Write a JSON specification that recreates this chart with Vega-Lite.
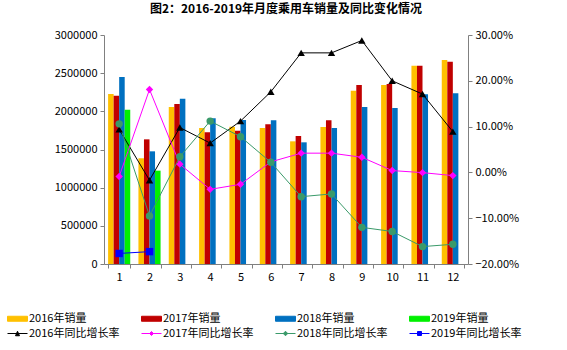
{
  "$schema": "https://vega.github.io/schema/vega-lite/v6.json",
  "width": 364,
  "height": 229,
  "autosize": {"type": "none"},
  "padding": {"left": 104, "top": 35, "right": 99, "bottom": 86},
  "background": "white",
  "config": {
    "view": {"stroke": null},
    "font": "Noto Sans CJK SC",
    "axis": {"labelFont": "Noto Sans CJK SC", "labelFontSize": 11, "labelColor": "black", "domainColor": "#808080", "tickColor": "#808080", "grid": false, "tickSize": 4, "labelPadding": 3}
  },
  "title": {"text": "图2：2016-2019年月度乘用车销量及同比变化情况", "fontSize": 12, "fontWeight": "bold", "anchor": "middle", "offset": 13, "font": "Noto Sans CJK SC", "color": "black"},
  "datasets": {
    "sales": [
      {"month": 1, "series": "2016年销量", "value": 2227000},
      {"month": 1, "series": "2017年销量", "value": 2205000},
      {"month": 1, "series": "2018年销量", "value": 2450000},
      {"month": 1, "series": "2019年销量", "value": 2020000},
      {"month": 2, "series": "2016年销量", "value": 1385000},
      {"month": 2, "series": "2017年销量", "value": 1633000},
      {"month": 2, "series": "2018年销量", "value": 1476000},
      {"month": 2, "series": "2019年销量", "value": 1223000},
      {"month": 3, "series": "2016年销量", "value": 2057000},
      {"month": 3, "series": "2017年销量", "value": 2096000},
      {"month": 3, "series": "2018年销量", "value": 2166000},
      {"month": 4, "series": "2016年销量", "value": 1782000},
      {"month": 4, "series": "2017年销量", "value": 1725000},
      {"month": 4, "series": "2018年销量", "value": 1908000},
      {"month": 5, "series": "2016年销量", "value": 1799000},
      {"month": 5, "series": "2017年销量", "value": 1747000},
      {"month": 5, "series": "2018年销量", "value": 1887000},
      {"month": 6, "series": "2016年销量", "value": 1782000},
      {"month": 6, "series": "2017年销量", "value": 1830000},
      {"month": 6, "series": "2018年销量", "value": 1882000},
      {"month": 7, "series": "2016年销量", "value": 1607000},
      {"month": 7, "series": "2017年销量", "value": 1677000},
      {"month": 7, "series": "2018年销量", "value": 1594000},
      {"month": 8, "series": "2016年销量", "value": 1795000},
      {"month": 8, "series": "2017年销量", "value": 1882000},
      {"month": 8, "series": "2018年销量", "value": 1782000},
      {"month": 9, "series": "2016年销量", "value": 2271000},
      {"month": 9, "series": "2017年销量", "value": 2345000},
      {"month": 9, "series": "2018年销量", "value": 2057000},
      {"month": 10, "series": "2016年销量", "value": 2345000},
      {"month": 10, "series": "2017年销量", "value": 2358000},
      {"month": 10, "series": "2018年销量", "value": 2044000},
      {"month": 11, "series": "2016年销量", "value": 2598000},
      {"month": 11, "series": "2017年销量", "value": 2598000},
      {"month": 11, "series": "2018年销量", "value": 2225000},
      {"month": 12, "series": "2016年销量", "value": 2672000},
      {"month": 12, "series": "2017年销量", "value": 2650000},
      {"month": 12, "series": "2018年销量", "value": 2236000}
    ],
    "rates": [
      {"month": 1, "series": "2016年同比增长率", "rate": 0.094},
      {"month": 2, "series": "2016年同比增长率", "rate": -0.017},
      {"month": 3, "series": "2016年同比增长率", "rate": 0.098},
      {"month": 4, "series": "2016年同比增长率", "rate": 0.064},
      {"month": 5, "series": "2016年同比增长率", "rate": 0.112},
      {"month": 6, "series": "2016年同比增长率", "rate": 0.176},
      {"month": 7, "series": "2016年同比增长率", "rate": 0.261},
      {"month": 8, "series": "2016年同比增长率", "rate": 0.261},
      {"month": 9, "series": "2016年同比增长率", "rate": 0.288},
      {"month": 10, "series": "2016年同比增长率", "rate": 0.200},
      {"month": 11, "series": "2016年同比增长率", "rate": 0.171},
      {"month": 12, "series": "2016年同比增长率", "rate": 0.089},
      {"month": 1, "series": "2017年同比增长率", "rate": -0.009},
      {"month": 2, "series": "2017年同比增长率", "rate": 0.181},
      {"month": 3, "series": "2017年同比增长率", "rate": 0.018},
      {"month": 4, "series": "2017年同比增长率", "rate": -0.037},
      {"month": 5, "series": "2017年同比增长率", "rate": -0.026},
      {"month": 6, "series": "2017年同比增长率", "rate": 0.023},
      {"month": 7, "series": "2017年同比增长率", "rate": 0.042},
      {"month": 8, "series": "2017年同比增长率", "rate": 0.042},
      {"month": 9, "series": "2017年同比增长率", "rate": 0.033},
      {"month": 10, "series": "2017年同比增长率", "rate": 0.004},
      {"month": 11, "series": "2017年同比增长率", "rate": -0.0005},
      {"month": 12, "series": "2017年同比增长率", "rate": -0.007},
      {"month": 1, "series": "2018年同比增长率", "rate": 0.106},
      {"month": 2, "series": "2018年同比增长率", "rate": -0.095},
      {"month": 3, "series": "2018年同比增长率", "rate": 0.034},
      {"month": 4, "series": "2018年同比增长率", "rate": 0.112},
      {"month": 5, "series": "2018年同比增长率", "rate": 0.078},
      {"month": 6, "series": "2018年同比增长率", "rate": 0.022},
      {"month": 7, "series": "2018年同比增长率", "rate": -0.053},
      {"month": 8, "series": "2018年同比增长率", "rate": -0.047},
      {"month": 9, "series": "2018年同比增长率", "rate": -0.120},
      {"month": 10, "series": "2018年同比增长率", "rate": -0.129},
      {"month": 11, "series": "2018年同比增长率", "rate": -0.162},
      {"month": 12, "series": "2018年同比增长率", "rate": -0.157},
      {"month": 1, "series": "2019年同比增长率", "rate": -0.177},
      {"month": 2, "series": "2019年同比增长率", "rate": -0.173}
    ]
  },
  "layer": [
    {
      "data": {"name": "sales"},
      "mark": {"type": "bar"},
      "encoding": {
        "x": {"field": "month", "type": "ordinal", "scale": {"paddingInner": 0.27, "paddingOuter": 0.135}, "axis": {"labelAngle": 0, "tickBand": "extent", "title": null}},
        "xOffset": {"field": "series", "type": "nominal", "scale": {"domain": ["2016年销量", "2017年销量", "2018年销量", "2019年销量"], "paddingInner": 0, "paddingOuter": 0}},
        "y": {"field": "value", "type": "quantitative", "scale": {"domain": [0, 3000000]}, "axis": {"orient": "left", "values": [0, 500000, 1000000, 1500000, 2000000, 2500000, 3000000], "format": "d", "title": null}},
        "color": {
          "field": "series", "type": "nominal",
          "scale": {
            "domain": ["2016年销量", "2017年销量", "2018年销量", "2019年销量", "2016年同比增长率", "2017年同比增长率", "2018年同比增长率", "2019年同比增长率"],
            "range": ["#FFC000", "#C00000", "#0070C0", "#00F000", "#000000", "#FF00FF", "#3A9A6A", "#0000FF"]
          },
          "legend": {
            "orient": "none", "legendX": -97, "legendY": 278, "direction": "horizontal", "columns": 4,
            "title": null, "symbolSize": 100, "labelFontSize": 11, "labelFont": "Noto Sans CJK SC", "labelColor": "black",
            "labelOffset": 11, "columnPadding": 19, "rowPadding": 3, "gridAlign": "all", "padding": 0, "symbolLimit": 0, "labelLimit": 200,
            "encode": {
              "symbols": {
                "update": {
                  "shape": {"signal": "datum.value === '2016年同比增长率' ? 'M-1,0H3M0.6,0.45L1,-0.45L1.4,0.45Z' : datum.value === '2017年同比增长率' ? 'M-1,0H3M1,-0.4L1.4,0L1,0.4L0.6,0Z' : datum.value === '2018年同比增长率' ? 'M-1,0H3M1,-0.45L1.45,0L1,0.45L0.55,0Z' : datum.value === '2019年同比增长率' ? 'M-1,0H3M0.6,-0.4H1.4V0.4H0.6Z' : 'M-1,-0.5H3V0.5H-1Z'"},
                  "fill": {"signal": "scale('color', datum.value)"},
                  "stroke": {"signal": "scale('color', datum.value)"},
                  "strokeWidth": {"value": 1},
                  "opacity": {"value": 1}
                }
              }
            }
          }
        }
      }
    },
    {
      "layer": [
        {
          "data": {"name": "rates"},
          "mark": {"type": "line", "strokeWidth": 1},
          "encoding": {
            "x": {"field": "month", "type": "ordinal"},
            "y": {"field": "rate", "type": "quantitative", "scale": {"domain": [-0.2, 0.3]}, "axis": {"orient": "right", "values": [-0.2, -0.1, 0, 0.1, 0.2, 0.3], "format": ".2%", "title": null}},
            "color": {"field": "series", "type": "nominal"}
          }
        },
        {
          "data": {"name": "rates"},
          "mark": {"type": "point", "filled": true, "size": 55, "opacity": 1},
          "encoding": {
            "x": {"field": "month", "type": "ordinal"},
            "y": {"field": "rate", "type": "quantitative", "scale": {"domain": [-0.2, 0.3]}, "axis": {"orient": "right", "values": [-0.2, -0.1, 0, 0.1, 0.2, 0.3], "format": ".2%", "title": null}},
            "color": {"field": "series", "type": "nominal"},
            "shape": {"field": "series", "type": "nominal", "scale": {"domain": ["2016年同比增长率", "2017年同比增长率", "2018年同比增长率", "2019年同比增长率"], "range": ["triangle-up", "diamond", "circle", "square"]}, "legend": null}
          }
        }
      ]
    }
  ],
  "resolve": {"scale": {"y": "independent"}}
}
